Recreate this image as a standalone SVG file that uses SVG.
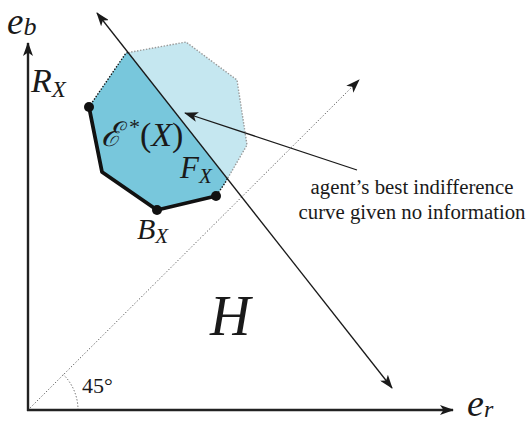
<svg xmlns="http://www.w3.org/2000/svg" width="531" height="423" viewBox="0 0 531 423">
<defs>
<style>
.m{font-family:"Liberation Serif","DejaVu Serif",serif;font-style:italic;fill:#1a1a1a}
.t{font-family:"Liberation Serif","DejaVu Serif",serif;fill:#1a1a1a}
.axis{stroke:#222;stroke-width:2.4;fill:none}
.thin{stroke:#1a1a1a;stroke-width:1.3;fill:none}
.thick{stroke:#111;stroke-width:3.8;fill:none;stroke-linejoin:round}
.dotk{stroke:#111;stroke-width:1.4;stroke-dasharray:1.4 1.6;fill:none}
.dotg{stroke:#999;stroke-width:1.4;stroke-dasharray:1.4 1.6;fill:none}
.diag{stroke:#555;stroke-width:1;stroke-dasharray:1.2 2;fill:none}
</style>
<marker id="ah" viewBox="0 0 14 10" refX="13" refY="5" markerWidth="14" markerHeight="10" markerUnits="userSpaceOnUse" orient="auto">
<path d="M0,0 L14,5 L0,10 L3.5,5 Z" fill="#1a1a1a"/>
</marker>
<marker id="ahs" viewBox="0 0 14 10" refX="13" refY="5" markerWidth="14" markerHeight="10" markerUnits="userSpaceOnUse" orient="auto-start-reverse">
<path d="M0,0 L14,5 L0,10 L3.5,5 Z" fill="#1a1a1a"/>
</marker>
</defs>
<rect width="531" height="423" fill="#fff"/>

<g id="region-X">
<polygon points="126,53 186,42 237,80 247,145 225,183 216,196 157,210 102,172 89,107" fill="#c5e7f0"/>
<polygon points="128.2,52.6 227.4,178.8 225,183 216,196 157,210 102,172 89,107 126,53" fill="#78c7dc"/>
<polyline class="dotg" points="128.2,52.6 186,42 237,80 247,145 227.4,178.8"/>
<polyline class="dotk" points="89,107 126,53 128.2,52.6"/>
<polyline class="dotk" points="227.4,178.8 225,183 216,196"/>
<polyline class="thick" points="89,107 102,172 157,210 216,196"/>
<circle cx="89" cy="107" r="5" fill="#111"/>
<circle cx="157" cy="210" r="5" fill="#111"/>
<circle cx="216" cy="196" r="5" fill="#111"/>
</g>

<g id="connectors">
<line class="diag" x1="28" y1="410" x2="359" y2="80" marker-end="url(#ah)"/>
<path class="diag" d="M78,410 A50,50 0 0 0 63.4,374.6"/>
<line class="thin" x1="97" y1="13" x2="392" y2="388" marker-start="url(#ahs)" marker-end="url(#ah)"/>
<line class="thin" x1="357" y1="170" x2="185" y2="113" marker-end="url(#ah)"/>
<line class="axis" x1="28" y1="411" x2="28" y2="43" marker-end="url(#ah)"/>
<line class="axis" x1="27" y1="410" x2="453" y2="410" marker-end="url(#ah)"/>
</g>

<g id="labels">
<text class="m" x="7" y="34" font-size="37">e<tspan font-size="26" dy="1">b</tspan></text>
<text class="m" x="467" y="416" font-size="38">e<tspan font-size="24" dy="1">r</tspan></text>
<text class="m" x="31" y="92" font-size="34">R<tspan font-size="23" dy="5">X</tspan></text>
<text class="m" x="180" y="178" font-size="31">F<tspan font-size="21" dy="5">X</tspan></text>
<text class="m" x="137" y="239" font-size="30">B<tspan font-size="21" dy="4">X</tspan></text>
<text class="m" x="101" y="146" font-size="34"><tspan font-family="DejaVu Serif" font-style="italic">ℰ</tspan><tspan font-size="22" dx="6" dy="-12">*</tspan><tspan dx="1" dy="12" font-style="normal">(</tspan>X<tspan font-style="normal">)</tspan></text>
<text class="m" x="210" y="335" font-size="56">H</text>
<text class="t" x="82" y="393" font-size="22" font-family="Liberation Serif">45°</text>
<text class="t" x="412" y="194" font-size="20.8" text-anchor="middle">agent’s best indifference</text>
<text class="t" x="412" y="219" font-size="20.8" text-anchor="middle">curve given no information</text>
</g>
</svg>
